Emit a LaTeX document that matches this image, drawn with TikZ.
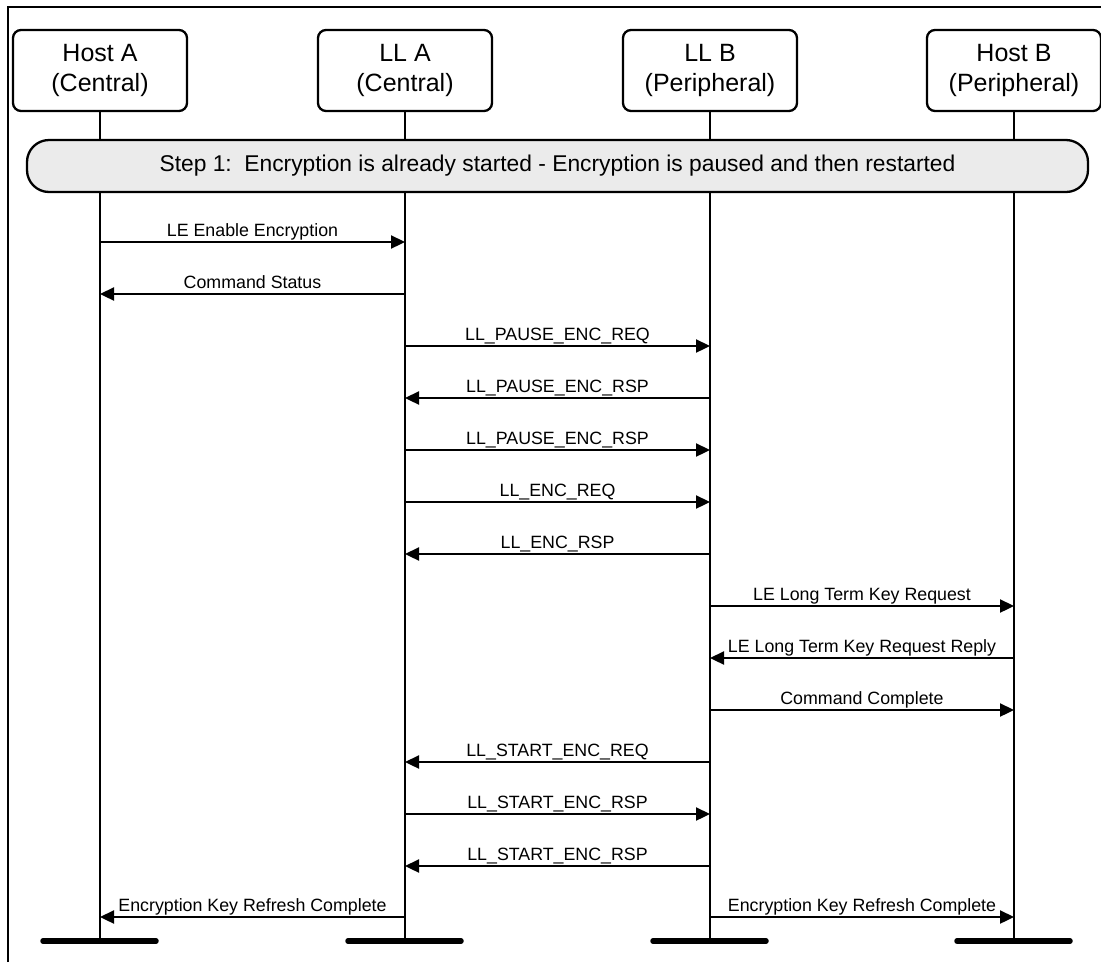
\documentclass[tikz,border=0pt]{standalone}
\usepackage{fontspec}
\setmainfont{Liberation Sans}
\usetikzlibrary{arrows.meta}

\tikzset{
  actor/.style={draw, line width=2.3pt, rounded corners=8pt, minimum width=174pt,
    minimum height=81pt, align=center, font=\fontsize{25}{30}\selectfont},
  stepbox/.style={draw, line width=2.3pt, rounded corners=22pt, fill=black!8,
    minimum width=1061pt, minimum height=52pt, font=\fontsize{22.8}{26}\selectfont},
  lifeline/.style={line width=2.3pt},
  footbar/.style={line width=5.5pt, line cap=round},
  msg/.style={line width=2.3pt, -{Triangle[length=14pt,width=13pt]}},
  lbl/.style={anchor=base, yshift=6pt, inner sep=0pt, font=\fontsize{17.8}{20}\selectfont}
}

\begin{document}
\begin{tikzpicture}[x=1pt,y=-1pt]
\useasboundingbox (0,0) rectangle (1101,962);
% frame
\draw[line width=2.3pt] (8,962) -- (8,7) -- (1101,7);

% the four parties
\node[actor] (hA) at (100,70.5) {Host A\\(Central)};
\node[actor] (lA) at (405,70.5) {LL A\\(Central)};
\node[actor] (lB) at (710,70.5) {LL B\\(Peripheral)};
\node[actor] (hB) at (1014,70.5) {Host B\\(Peripheral)};

\coordinate (hAend) at (100,941);
\coordinate (lAend) at (405,941);
\coordinate (lBend) at (710,941);
\coordinate (hBend) at (1014,941);

\draw[lifeline] (hA) -- (hAend);
\draw[lifeline] (lA) -- (lAend);
\draw[lifeline] (lB) -- (lBend);
\draw[lifeline] (hB) -- (hBend);

\draw[footbar] ([xshift=-57pt]hAend) -- ([xshift=56pt]hAend);
\draw[footbar] ([xshift=-57pt]lAend) -- ([xshift=56pt]lAend);
\draw[footbar] ([xshift=-57pt]lBend) -- ([xshift=56pt]lBend);
\draw[footbar] ([xshift=-57pt]hBend) -- ([xshift=56pt]hBend);

\node[stepbox] (step) at (557.5,166) {Step 1:\ \ Encryption is already started - Encryption is paused and then restarted};

% messages
\draw[msg] (hA |- 0,242) -- node[lbl] {LE Enable Encryption} (lA |- 0,242);
\draw[msg] (lA |- 0,294) -- node[lbl] {Command Status} (hA |- 0,294);
\draw[msg] (lA |- 0,346) -- node[lbl] {LL\_PAUSE\_ENC\_REQ} (lB |- 0,346);
\draw[msg] (lB |- 0,398) -- node[lbl] {LL\_PAUSE\_ENC\_RSP} (lA |- 0,398);
\draw[msg] (lA |- 0,450) -- node[lbl] {LL\_PAUSE\_ENC\_RSP} (lB |- 0,450);
\draw[msg] (lA |- 0,502) -- node[lbl] {LL\_ENC\_REQ} (lB |- 0,502);
\draw[msg] (lB |- 0,554) -- node[lbl] {LL\_ENC\_RSP} (lA |- 0,554);
\draw[msg] (lB |- 0,606) -- node[lbl] {LE Long Term Key Request} (hB |- 0,606);
\draw[msg] (hB |- 0,658) -- node[lbl] {LE Long Term Key Request Reply} (lB |- 0,658);
\draw[msg] (lB |- 0,710) -- node[lbl] {Command Complete} (hB |- 0,710);
\draw[msg] (lB |- 0,762) -- node[lbl] {LL\_START\_ENC\_REQ} (lA |- 0,762);
\draw[msg] (lA |- 0,814) -- node[lbl] {LL\_START\_ENC\_RSP} (lB |- 0,814);
\draw[msg] (lB |- 0,866) -- node[lbl] {LL\_START\_ENC\_RSP} (lA |- 0,866);
\draw[msg] (lA |- 0,917) -- node[lbl] {Encryption Key Refresh Complete} (hA |- 0,917);
\draw[msg] (lB |- 0,917) -- node[lbl] {Encryption Key Refresh Complete} (hB |- 0,917);
\end{tikzpicture}
\end{document}
